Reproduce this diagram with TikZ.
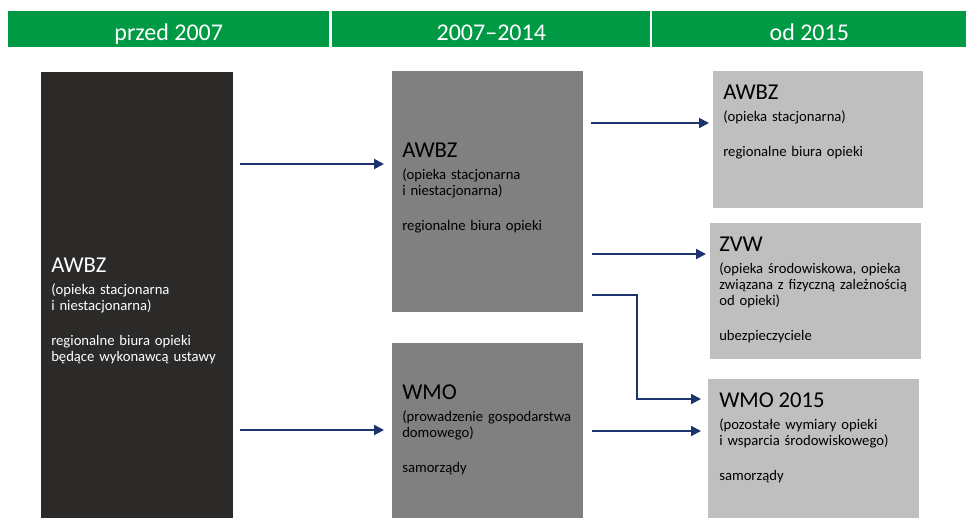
\documentclass[tikz,border=0pt]{standalone}
\usepackage{fontspec}
\setmainfont{Carlito}
\definecolor{headgreen}{RGB}{0, 154, 68}
\definecolor{darkbox}{RGB}{43, 42, 41}
\definecolor{midgrey}{RGB}{128, 128, 128}
\definecolor{lightgrey}{RGB}{191, 191, 191}
\definecolor{navy1}{RGB}{28, 52, 110}
\usetikzlibrary{arrows.meta, positioning, calc}

\begin{document}
\begin{tikzpicture}[x=0.75pt, y=-0.75pt,
  hdr/.style={fill=headgreen, inner sep=0pt, anchor=north west, minimum height=27pt},
  hdrtxt/.style={text=white, font=\fontsize{18}{20}\selectfont, anchor=base, inner sep=0pt},
  box/.style={inner sep=0pt, anchor=north west},
  boxtxt/.style={anchor=north west, inner sep=0pt, align=left, text width=155pt, font=\fontsize{11}{12.2}\selectfont},
  flow/.style={draw=navy1, line width=1.5pt, -{Triangle[length=7.5pt, width=7.5pt]}}]
  \useasboundingbox (0,0) rectangle (966,518);

  % Header
  \node[hdr, minimum width=240.75pt] (h1) at (8,11) {};
  \node[hdr, minimum width=238.5pt] (h2) at (332,11) {};
  \node[hdr, minimum width=235.5pt] (h3) at (652,11) {};
  \node[hdrtxt] (h1txt) at (h1.center |- 0,40) {przed 2007};
  \node[hdrtxt] (h2txt) at (h2.center |- 0,40) {2007--2014};
  \node[hdrtxt] (h3txt) at (h3.center |- 0,40) {od 2015};

  % przed 2007
  \node[box, fill=darkbox, minimum width=144pt, minimum height=334.5pt] (dark) at (41,72) {};
  \node[boxtxt, text=white] (darktxt) at ([shift={(10,186)}]dark.north west) {
    {\fontsize{17}{17}\selectfont AWBZ}\\[3.9pt]
    (opieka stacjonarna\\
    i niestacjonarna)\\[14pt]
    regionalne biura opieki\\
    będące wykonawcą ustawy};

  % 2007-2014
  \node[box, fill=midgrey, minimum width=143.25pt, minimum height=180.75pt] (awbz1) at (392,71) {};
  \node[boxtxt, text=black] (awbz1txt) at ([shift={(10,72)}]awbz1.north west) {
    {\fontsize{17}{17}\selectfont AWBZ}\\[3.9pt]
    (opieka stacjonarna\\
    i niestacjonarna)\\[14pt]
    regionalne biura opieki};

  \node[box, fill=midgrey, minimum width=143.25pt, minimum height=131.25pt] (wmo1) at (392,343) {};
  \node[boxtxt, text=black] (wmo1txt) at ([shift={(10,42)}]wmo1.north west) {
    {\fontsize{17}{17}\selectfont WMO}\\[3.9pt]
    (prowadzenie gospodarstwa\\
    domowego)\\[14pt]
    samorządy};

  % od 2015
  \node[box, fill=lightgrey, minimum width=157.5pt, minimum height=102.75pt] (awbz2) at (713,71) {};
  \node[boxtxt, text=black] (awbz2txt) at ([shift={(10,14)}]awbz2.north west) {
    {\fontsize{17}{17}\selectfont AWBZ}\\[3.9pt]
    (opieka stacjonarna)\\[14pt]
    regionalne biura opieki};

  \node[box, fill=lightgrey, minimum width=158.25pt, minimum height=102pt] (zvw) at (710,223) {};
  \node[boxtxt, text=black] (zvwtxt) at ([shift={(9,14)}]zvw.north west) {
    {\fontsize{17}{17}\selectfont ZVW}\\[3.9pt]
    (opieka środowiskowa, opieka\\
    związana z fizyczną zależnością\\
    od opieki)\\[14pt]
    ubezpieczyciele};

  \node[box, fill=lightgrey, minimum width=158.25pt, minimum height=104.25pt] (wmo2) at (708,379) {};
  \node[boxtxt, text=black] (wmo2txt) at ([shift={(11,14)}]wmo2.north west) {
    {\fontsize{17}{17}\selectfont WMO 2015}\\[3.9pt]
    (pozostałe wymiary opieki\\
    i wsparcia środowiskowego)\\[14pt]
    samorządy};

  % Arrows
  \draw[flow, shorten <=4.5pt, shorten >=6pt] (dark.east |- 0,164) -- (awbz1.west |- 0,164);
  \draw[flow, shorten <=4.5pt, shorten >=6pt] (dark.east |- 0,430) -- (wmo1.west |- 0,430);
  \draw[flow, shorten <=5.25pt, shorten >=3pt] (awbz1.east |- 0,123) -- (awbz2.west |- 0,123);
  \draw[flow, shorten <=6pt, shorten >=3pt] (awbz1.east |- 0,254) -- (zvw.west |- 0,254);
  \draw[flow, shorten <=6pt, shorten >=5.25pt] (awbz1.east |- 0,295) -- ++(53,0) |- (wmo2.west |- 0,399);
  \draw[flow, shorten <=6pt, shorten >=5.25pt] (wmo1.east |- 0,431) -- (wmo2.west |- 0,431);
\end{tikzpicture}
\end{document}
